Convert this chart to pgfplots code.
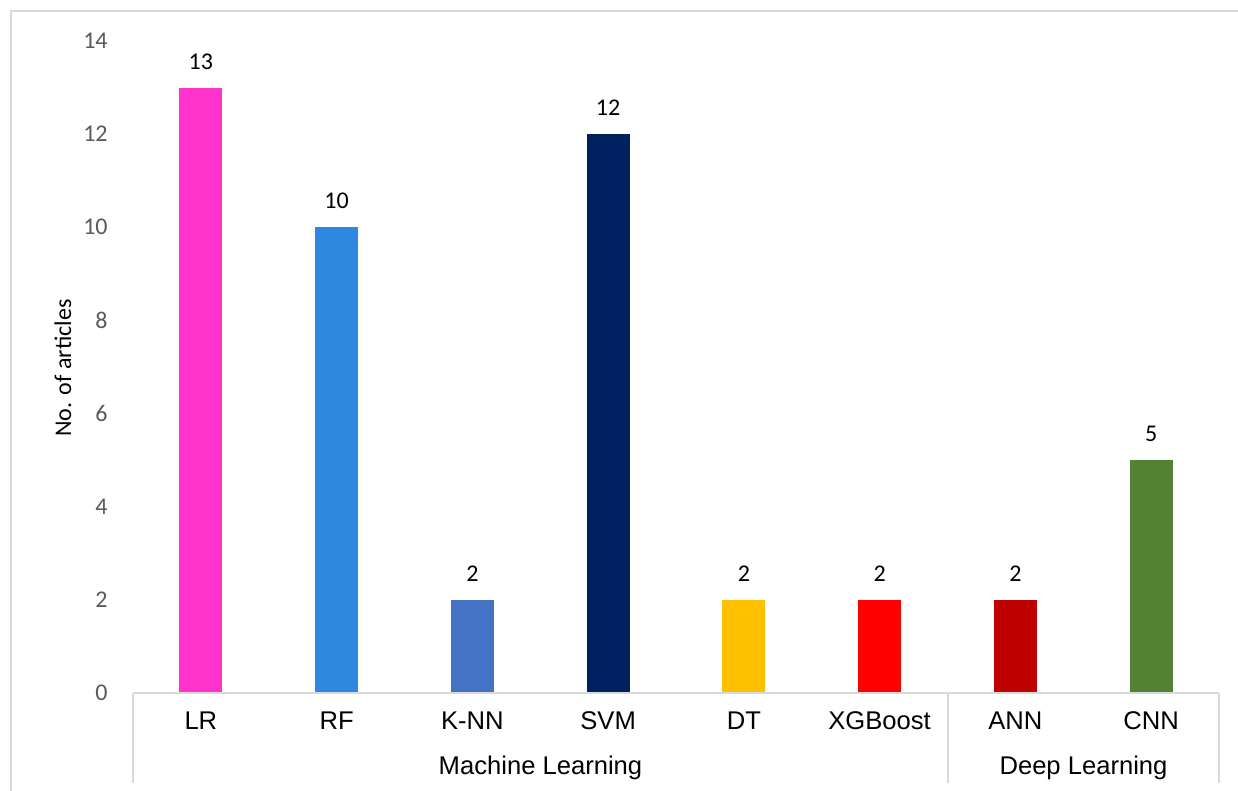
\documentclass[border=0pt]{standalone}
\usepackage{pgfplots}
\pgfplotsset{compat=1.18}
\usepackage{fontspec}
\setmainfont{Carlito}
\newfontfamily\arialf{Liberation Sans}
\definecolor{cLR}{HTML}{FF33CC}
\definecolor{cRF}{HTML}{2E88E0}
\definecolor{cKNN}{HTML}{4472C4}
\definecolor{cSVM}{HTML}{002060}
\definecolor{cDT}{HTML}{FFC000}
\definecolor{cXGB}{HTML}{FF0000}
\definecolor{cANN}{HTML}{C00000}
\definecolor{cCNN}{HTML}{548235}
\definecolor{linegray}{HTML}{D9D9D9}
\definecolor{tickgray}{HTML}{595959}
\begin{document}
\begin{tikzpicture}
\fontsize{12}{14.4}\selectfont
\path[use as bounding box] (0,0) rectangle (619pt,395.5pt);
\draw[linegray, line width=1pt] (5.5pt,0) -- (5.5pt,390pt) -- (619pt,390pt);
\begin{axis}[
  at={(66.5pt,49pt)}, anchor=south west,
  scale only axis, width=543pt, height=326pt,
  xmin=-0.5, xmax=7.5, ymin=0, ymax=14,
  ytick={0,2,...,14},
  xtick={0,...,7},
  xticklabels={LR,RF,K-NN,SVM,DT,XGBoost,ANN,CNN},
  /pgf/number format/assume math mode=true,
  axis line style={draw=none},
  major tick length=0pt,
  tick style={draw=none},
  yticklabel style={text=tickgray, anchor=east, inner sep=0pt, xshift=-12.5pt},
  xticklabel style={font=\arialf\fontsize{12.8}{15}\selectfont, anchor=center, inner sep=0pt, yshift=-14pt},
  ybar, bar width=21.5pt, bar shift=0pt,
  nodes near coords,
  nodes near coords style={anchor=center, inner sep=0pt, yshift=13pt, text=black},
  clip=false,
]
\addplot[fill=cLR, draw=none] coordinates {(0,13)};
\addplot[fill=cRF, draw=none] coordinates {(1,10)};
\addplot[fill=cKNN, draw=none] coordinates {(2,2)};
\addplot[fill=cSVM, draw=none] coordinates {(3,12)};
\addplot[fill=cDT, draw=none] coordinates {(4,2)};
\addplot[fill=cXGB, draw=none] coordinates {(5,2)};
\addplot[fill=cANN, draw=none] coordinates {(6,2)};
\addplot[fill=cCNN, draw=none] coordinates {(7,5)};
\end{axis}
\draw[linegray, line width=1pt] (66.5pt,49pt) -- (609.5pt,49pt);
\draw[linegray, line width=1pt] (66.5pt,49pt) -- (66.5pt,4pt);
\draw[linegray, line width=1pt] (474pt,49pt) -- (474pt,4pt);
\draw[linegray, line width=1pt] (609.5pt,49pt) -- (609.5pt,4pt);
\node[font=\arialf\fontsize{12.8}{15}\selectfont, anchor=center, inner sep=0pt] at (270.25pt,11.5pt) {Machine Learning};
\node[font=\arialf\fontsize{12.8}{15}\selectfont, anchor=center, inner sep=0pt] at (541.75pt,11.5pt) {Deep Learning};
\node[rotate=90, anchor=center, inner sep=0pt] at (31.5pt,211.5pt) {No. of articles};
\end{tikzpicture}
\end{document}
